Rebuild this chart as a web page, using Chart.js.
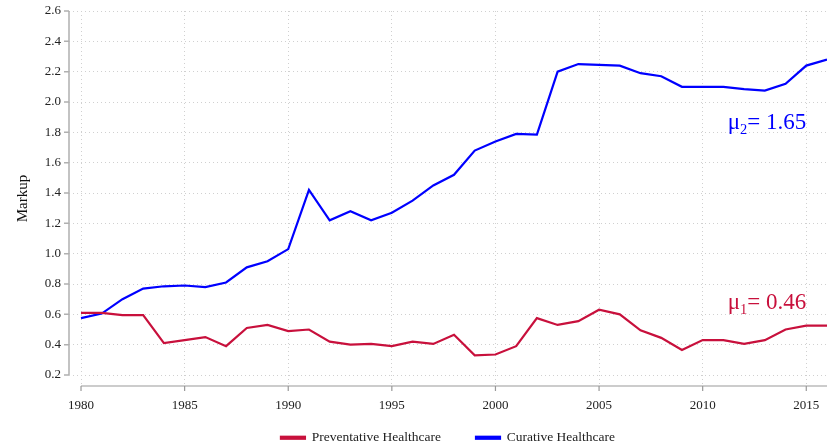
<!DOCTYPE html>
<html>
<head>
<meta charset="utf-8">
<script src="https://cdn.jsdelivr.net/npm/chart.js@4.4.0/dist/chart.umd.min.js"></script>
<style>
  html, body { margin: 0; padding: 0; background: #fff; }
  #wrap { width: 827px; height: 447px; }
</style>
</head>
<body>
<div id="wrap"><canvas id="markupChart"></canvas></div>
<script>
"use strict";

var years = [1980, 1981, 1982, 1983, 1984, 1985, 1986, 1987, 1988, 1989,
    1990, 1991, 1992, 1993, 1994, 1995, 1996, 1997, 1998, 1999,
    2000, 2001, 2002, 2003, 2004, 2005, 2006, 2007, 2008, 2009,
    2010, 2011, 2012, 2013, 2014, 2015, 2016];

var preventative = [0.61, 0.61, 0.595, 0.595, 0.41, 0.43, 0.45, 0.39, 0.51, 0.53,
    0.49, 0.50, 0.42, 0.40, 0.405, 0.39, 0.42, 0.405, 0.465, 0.33,
    0.335, 0.39, 0.575, 0.53, 0.555, 0.63, 0.60, 0.495, 0.445, 0.365,
    0.43, 0.43, 0.405, 0.43, 0.50, 0.525, 0.525];

var curative = [0.575, 0.605, 0.70, 0.77, 0.785, 0.79, 0.78, 0.81, 0.91, 0.95,
    1.03, 1.42, 1.22, 1.28, 1.22, 1.27, 1.35, 1.45, 1.52, 1.68,
    1.74, 1.79, 1.785, 2.20, 2.25, 2.245, 2.24, 2.19, 2.17, 2.10,
    2.10, 2.10, 2.085, 2.075, 2.12, 2.24, 2.28];

var xTicks = [1980, 1985, 1990, 1995, 2000, 2005, 2010, 2015];
var yTicks = [0.2, 0.4, 0.6, 0.8, 1.0, 1.2, 1.4, 1.6, 1.8, 2.0, 2.2, 2.4, 2.6];

var seriesNames = ['Preventative Healthcare', 'Curative Healthcare'];
var means = [0.46, 1.65];

var RED = '#c8103c';
var BLUE = '#0000ff';
var SERIF = '"Liberation Serif", "Times New Roman", serif';

function points(vals) {
    return years.map(function (y, i) { return { x: y, y: vals[i] }; });
}

// offset axis lines (R base graphics style), drawn from the tick range only
var axisLines = {
    id: 'axisLines',
    afterLayout: function (chart) {
        // centre the legend under the plot area and push it to the bottom
        chart.legend.left = chart.chartArea.left;
        chart.legend.right = chart.chartArea.right;
        chart.legend.top = chart.height - 51;
        chart.legend.bottom = chart.height;
    },
    afterDraw: function (chart) {
        var ctx = chart.ctx, xs = chart.scales.x, ys = chart.scales.y;
        var xLine = chart.chartArea.left;
        var yLine = chart.chartArea.bottom;
        ctx.save();
        ctx.strokeStyle = '#b0b0b0';
        ctx.lineWidth = 1.5;
        ctx.beginPath();
        ctx.moveTo(xLine, ys.getPixelForValue(yTicks[0]));
        ctx.lineTo(xLine, ys.getPixelForValue(yTicks[yTicks.length - 1]));
        yTicks.forEach(function (v) {
            var p = ys.getPixelForValue(v);
            ctx.moveTo(xLine, p);
            ctx.lineTo(xLine - 5, p);
        });
        ctx.stroke();
        ctx.strokeStyle = '#999';
        ctx.lineWidth = 1.2;
        ctx.beginPath();
        ctx.moveTo(xs.getPixelForValue(xTicks[0]), yLine);
        ctx.lineTo(chart.chartArea.right, yLine);
        xTicks.forEach(function (v) {
            var p = xs.getPixelForValue(v);
            ctx.moveTo(p, yLine);
            ctx.lineTo(p, yLine + 5);
        });
        ctx.stroke();

        // mean labels
        function meanLabel(idx, color, yVal) {
            var right = xs.getPixelForValue(2015);
            var base = ys.getPixelForValue(yVal);
            var big = '23px ' + SERIF, small = '14.5px ' + SERIF;
            var rest = '= ' + means[idx].toFixed(2);
            ctx.font = big;
            var wMu = ctx.measureText('\u03bc').width;
            var wRest = ctx.measureText(rest).width;
            ctx.font = small;
            var wSub = ctx.measureText(String(idx + 1)).width;
            var x = right - wMu - wSub - wRest;
            ctx.fillStyle = color;
            ctx.textBaseline = 'alphabetic';
            ctx.textAlign = 'left';
            ctx.font = big;
            ctx.fillText('\u03bc', x, base);
            ctx.font = small;
            ctx.fillText(String(idx + 1), x + wMu, base + 5);
            ctx.font = big;
            ctx.fillText(rest, x + wMu + wSub, base);
        }
        meanLabel(1, BLUE, 1.82);
        meanLabel(0, RED, 0.635);
        ctx.restore();
    }
};

new Chart(document.getElementById('markupChart'), {
    type: 'line',
    data: {
        datasets: [
            {
                label: seriesNames[0],
                data: points(preventative),
                borderColor: RED,
                backgroundColor: RED,
                borderWidth: 2.2,
                pointRadius: 0,
                tension: 0
            },
            {
                label: seriesNames[1],
                data: points(curative),
                borderColor: BLUE,
                backgroundColor: BLUE,
                borderWidth: 2.2,
                pointRadius: 0,
                tension: 0
            }
        ]
    },
    options: {
        responsive: true,
        maintainAspectRatio: false,
        animation: false,
        layout: { padding: { top: 11, right: 0, left: 14, bottom: 0 } },
        plugins: {
            legend: {
                position: 'bottom',
                maxHeight: 29,
                labels: {
                    boxWidth: 24,
                    boxHeight: 2,
                    padding: 35,
                    color: '#222',
                    font: { family: SERIF, size: 13.5 }
                }
            },
            tooltip: { enabled: false }
        },
        scales: {
            x: {
                type: 'linear',
                min: 1979.42,
                max: 2016,
                afterBuildTicks: function (s) {
                    s.ticks = xTicks.map(function (v) { return { value: v }; });
                },
                afterFit: function (s) {
                    s.height = 32;
                    s.paddingLeft = 0;
                    s.paddingRight = 0;
                },
                ticks: {
                    color: '#222',
                    padding: 12,
                    maxRotation: 0,
                    autoSkip: false,
                    font: { family: SERIF, size: 13 },
                    callback: function (v) { return String(v); }
                },
                grid: { color: '#d0d0d0', lineWidth: 1, drawTicks: false },
                border: { display: false, dash: [1, 3] }
            },
            y: {
                min: 0.1275,
                max: 2.6,
                afterBuildTicks: function (s) {
                    s.ticks = yTicks.map(function (v) { return { value: v }; });
                },
                afterFit: function (s) {
                    s.width = 55;
                    s.paddingTop = 0;
                    s.paddingBottom = 0;
                },
                title: {
                    display: true,
                    text: 'Markup',
                    color: '#111',
                    font: { family: SERIF, size: 15 },
                    padding: { top: 0, bottom: 4 }
                },
                ticks: {
                    color: '#222',
                    padding: 8,
                    font: { family: SERIF, size: 13 },
                    callback: function (v) { return Number(v).toFixed(1); }
                },
                grid: { color: '#d0d0d0', lineWidth: 1, drawTicks: false },
                border: { display: false, dash: [1, 3] }
            }
        }
    },
    plugins: [axisLines]
});
</script>
</body>
</html>
